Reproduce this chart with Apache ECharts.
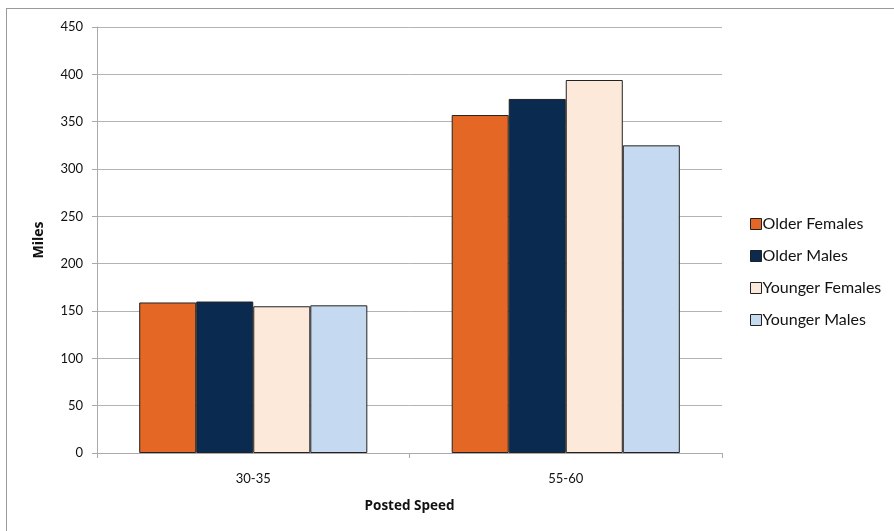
<!DOCTYPE html>
<html>
<head>
<meta charset="utf-8">
<script src="https://cdn.jsdelivr.net/npm/echarts@6/dist/echarts.min.js"></script>
<style>
  html, body { margin: 0; padding: 0; background: #fff; }
  #frame { position: absolute; left: 6px; top: 8px; width: 900px; height: 540px; border: 1px solid #9a9a9a; box-sizing: border-box; }
  #chart { position: absolute; left: 0; top: 0; width: 894px; height: 531px; }
</style>
</head>
<body>
<div id="frame"></div>
<div id="chart"></div>
<script>
// Miles driven by posted speed band, per driver group
const categories = ['30-35', '55-60'];
const olderFemales = [159, 357];
const olderMales = [160, 374];
const youngerFemales = [155, 394];
const youngerMales = [156, 325];
const yTicks = [0, 50, 100, 150, 200, 250, 300, 350, 400, 450];

const FONT = 'Lato, "Open Sans", sans-serif';
const TITLE_FONT = '"Open Sans", Lato, sans-serif';
const groups = [
  { name: 'Older Females', data: olderFemales, color: '#E46726' },
  { name: 'Older Males', data: olderMales, color: '#0B2A4F' },
  { name: 'Younger Females', data: youngerFemales, color: '#FDE9D9' },
  { name: 'Younger Males', data: youngerMales, color: '#C5D9F1' }
];

const chart = echarts.init(document.getElementById('chart'), null, { renderer: 'canvas' });
chart.setOption({
  animation: false,
  backgroundColor: 'transparent',
  textStyle: { fontFamily: FONT },
  grid: { left: 97, right: 172, top: 27, bottom: 78, containLabel: false },
  legend: {
    orient: 'vertical',
    left: 745,
    top: 211,
    itemWidth: 11,
    itemHeight: 11,
    itemGap: 16,
    icon: 'rect',
    textStyle: { fontFamily: FONT, fontSize: 16, color: '#111', padding: [0, 0, 0, -4] },
    data: groups.map(g => ({ name: g.name, itemStyle: { borderColor: '#222', borderWidth: 1 } }))
  },
  xAxis: {
    type: 'category',
    data: categories,
    name: 'Posted Speed',
    nameLocation: 'middle',
    nameGap: 46,
    nameTextStyle: { fontFamily: TITLE_FONT, fontWeight: 'bold', fontSize: 13.5, color: '#111' },
    axisLine: { lineStyle: { color: '#aaa', width: 1 } },
    axisTick: { show: true, length: 5, lineStyle: { color: '#aaa' } },
    axisLabel: { fontFamily: FONT, fontSize: 13, color: '#111', margin: 19 }
  },
  yAxis: {
    type: 'value',
    min: 0,
    max: 450,
    interval: 50,
    name: 'Miles',
    nameLocation: 'middle',
    nameGap: 51,
    nameTextStyle: { fontFamily: TITLE_FONT, fontWeight: 'bold', fontSize: 14, color: '#111' },
    axisLine: { show: true, lineStyle: { color: '#aaa', width: 1 } },
    axisTick: { show: true, length: 5, lineStyle: { color: '#aaa' } },
    axisLabel: {
      fontFamily: FONT, fontSize: 13, color: '#111', margin: 14,
      formatter: v => (yTicks.includes(v) ? String(v) : '')
    },
    splitLine: { lineStyle: { color: '#b3b3b3', width: 1 } }
  },
  series: groups.map(g => ({
    name: g.name,
    type: 'bar',
    data: g.data,
    barGap: '0%',
    barCategoryGap: '27%',
    itemStyle: { color: g.color, borderColor: '#222', borderWidth: 1 }
  }))
});
</script>
</body>
</html>
